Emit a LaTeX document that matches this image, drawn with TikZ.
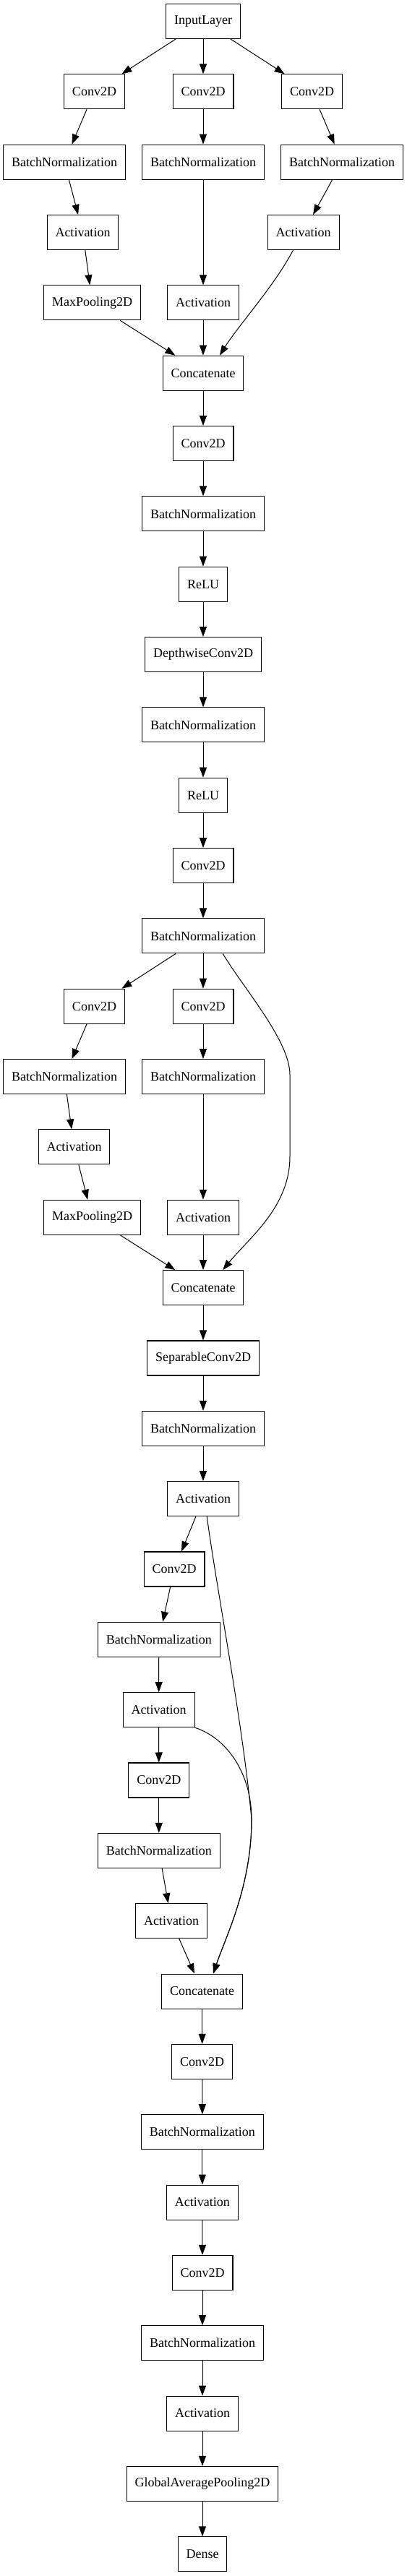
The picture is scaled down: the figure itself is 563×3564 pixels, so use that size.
\documentclass[tikz,border=0pt]{standalone}
\usepackage{fontspec}
\setmainfont{Liberation Serif}
\usetikzlibrary{arrows.meta}

\begin{document}
\begin{tikzpicture}[x=0.75pt,y=-0.75pt,font=\fontsize{13.5}{16}\selectfont,box/.style={draw,line width=0.8pt,inner xsep=8.6pt,inner ysep=0pt,minimum height=36pt},arr/.style={-{Triangle[length=10.5pt,width=7.5pt]},line width=0.75pt}]
\useasboundingbox (0,0) rectangle (563,3564);
\node[box] (inp) at (281,29.5) {InputLayer};
\node[box] (cv1a) at (130.5,126.84) {Conv2D};
\node[box] (cv1b) at (281,126.84) {Conv2D};
\node[box] (cv1c) at (431.6,126.84) {Conv2D};
\node[box] (bn1a) at (89,224.18) {BatchNormalization};
\node[box] (bn1b) at (281,224.18) {BatchNormalization};
\node[box] (bn1c) at (473.2,224.18) {BatchNormalization};
\node[box] (ac1a) at (114.5,321.52) {Activation};
\node[box] (ac1c) at (419.6,321.52) {Activation};
\node[box] (mp1a) at (127.6,418.86) {MaxPooling2D};
\node[box] (ac1b) at (281,418.86) {Activation};
\node[box] (cat1) at (281,516.2) {Concatenate};
\node[box] (cv2) at (281,613.54) {Conv2D};
\node[box] (bn2) at (281,710.88) {BatchNormalization};
\node[box] (relu1) at (281,808.22) {ReLU};
\node[box] (dw) at (281,905.56) {DepthwiseConv2D};
\node[box] (bn3) at (281,1002.9) {BatchNormalization};
\node[box] (relu2) at (281,1100.24) {ReLU};
\node[box] (cv3) at (281,1197.58) {Conv2D};
\node[box] (bn4) at (281,1294.92) {BatchNormalization};
\node[box] (cv4a) at (130.5,1392.26) {Conv2D};
\node[box] (cv4b) at (281,1392.26) {Conv2D};
\node[box] (bn5a) at (89,1489.6) {BatchNormalization};
\node[box] (bn5b) at (281,1489.6) {BatchNormalization};
\node[box] (ac5a) at (102.5,1586.94) {Activation};
\node[box] (mp5a) at (127.6,1684.28) {MaxPooling2D};
\node[box] (ac5b) at (281,1684.28) {Activation};
\node[box] (cat2) at (281,1781.62) {Concatenate};
\node[box] (sep) at (281,1878.96) {SeparableConv2D};
\node[box] (bn6) at (281,1976.3) {BatchNormalization};
\node[box] (ac6) at (281,2073.64) {Activation};
\node[box] (cv7) at (241,2170.98) {Conv2D};
\node[box] (bn7) at (219.8,2268.32) {BatchNormalization};
\node[box] (ac7) at (219.6,2365.66) {Activation};
\node[box] (cv8) at (219.8,2463) {Conv2D};
\node[box] (bn8) at (219.8,2560.34) {BatchNormalization};
\node[box] (ac8) at (237,2657.68) {Activation};
\node[box] (cat3) at (279.7,2755.02) {Concatenate};
\node[box] (cv9) at (279.7,2852.36) {Conv2D};
\node[box] (bn9) at (279.9,2949.7) {BatchNormalization};
\node[box] (ac9) at (279.9,3047.04) {Activation};
\node[box] (cv10) at (280,3144.38) {Conv2D};
\node[box] (bn10) at (280,3241.72) {BatchNormalization};
\node[box] (ac10) at (280,3339.06) {Activation};
\node[box] (gap) at (280,3436.4) {GlobalAveragePooling2D};
\node[box] (dense) at (280,3533.74) {Dense};
\draw[arr] (inp)--(cv1a);
\draw[arr] (inp)--(cv1b);
\draw[arr] (inp)--(cv1c);
\draw[arr] (cv1a)--(bn1a);
\draw[arr] (cv1b)--(bn1b);
\draw[arr] (cv1c)--(bn1c);
\draw[arr] (bn1a)--(ac1a);
\draw[arr] (bn1b)--(ac1b);
\draw[arr] (bn1c)--(ac1c);
\draw[arr] (ac1a)--(mp1a);
\draw[arr] (mp1a)--(cat1);
\draw[arr] (ac1b)--(cat1);
\draw[arr] (ac1c.-120) .. controls (380,395) and (330,450) .. (cat1.47);
\draw[arr] (cat1)--(cv2);
\draw[arr] (cv2)--(bn2);
\draw[arr] (bn2)--(relu1);
\draw[arr] (relu1)--(dw);
\draw[arr] (dw)--(bn3);
\draw[arr] (bn3)--(relu2);
\draw[arr] (relu2)--(cv3);
\draw[arr] (cv3)--(bn4);
\draw[arr] (bn4)--(cv4a);
\draw[arr] (bn4)--(cv4b);
\draw[arr] (bn4.-42) .. controls (338,1369) and (401,1440) .. (401,1487) -- (401,1600) .. controls (401,1670) and (345,1712) .. (cat2.42);
\draw[arr] (cv4a)--(bn5a);
\draw[arr] (cv4b)--(bn5b);
\draw[arr] (bn5a)--(ac5a);
\draw[arr] (bn5b)--(ac5b);
\draw[arr] (ac5a)--(mp5a);
\draw[arr] (mp5a)--(cat2);
\draw[arr] (ac5b)--(cat2);
\draw[arr] (cat2)--(sep);
\draw[arr] (sep)--(bn6);
\draw[arr] (bn6)--(ac6);
\draw[arr] (ac6)--(cv7);
\draw[arr] (ac6.-78) .. controls (300,2200) and (336,2385) .. (348,2517) .. controls (348,2610) and (312,2680) .. (cat3.58);
\draw[arr] (cv7)--(bn7);
\draw[arr] (bn7)--(ac7);
\draw[arr] (ac7)--(cv8);
\draw[arr] (ac7.south east) .. controls (315,2405) and (348,2455) .. (348,2517) .. controls (348,2610) and (312,2680) .. (cat3.58);
\draw[arr] (cv8)--(bn8);
\draw[arr] (bn8)--(ac8);
\draw[arr] (ac8)--(cat3);
\draw[arr] (cat3)--(cv9);
\draw[arr] (cv9)--(bn9);
\draw[arr] (bn9)--(ac9);
\draw[arr] (ac9)--(cv10);
\draw[arr] (cv10)--(bn10);
\draw[arr] (bn10)--(ac10);
\draw[arr] (ac10)--(gap);
\draw[arr] (gap)--(dense);
\end{tikzpicture}
\end{document}
